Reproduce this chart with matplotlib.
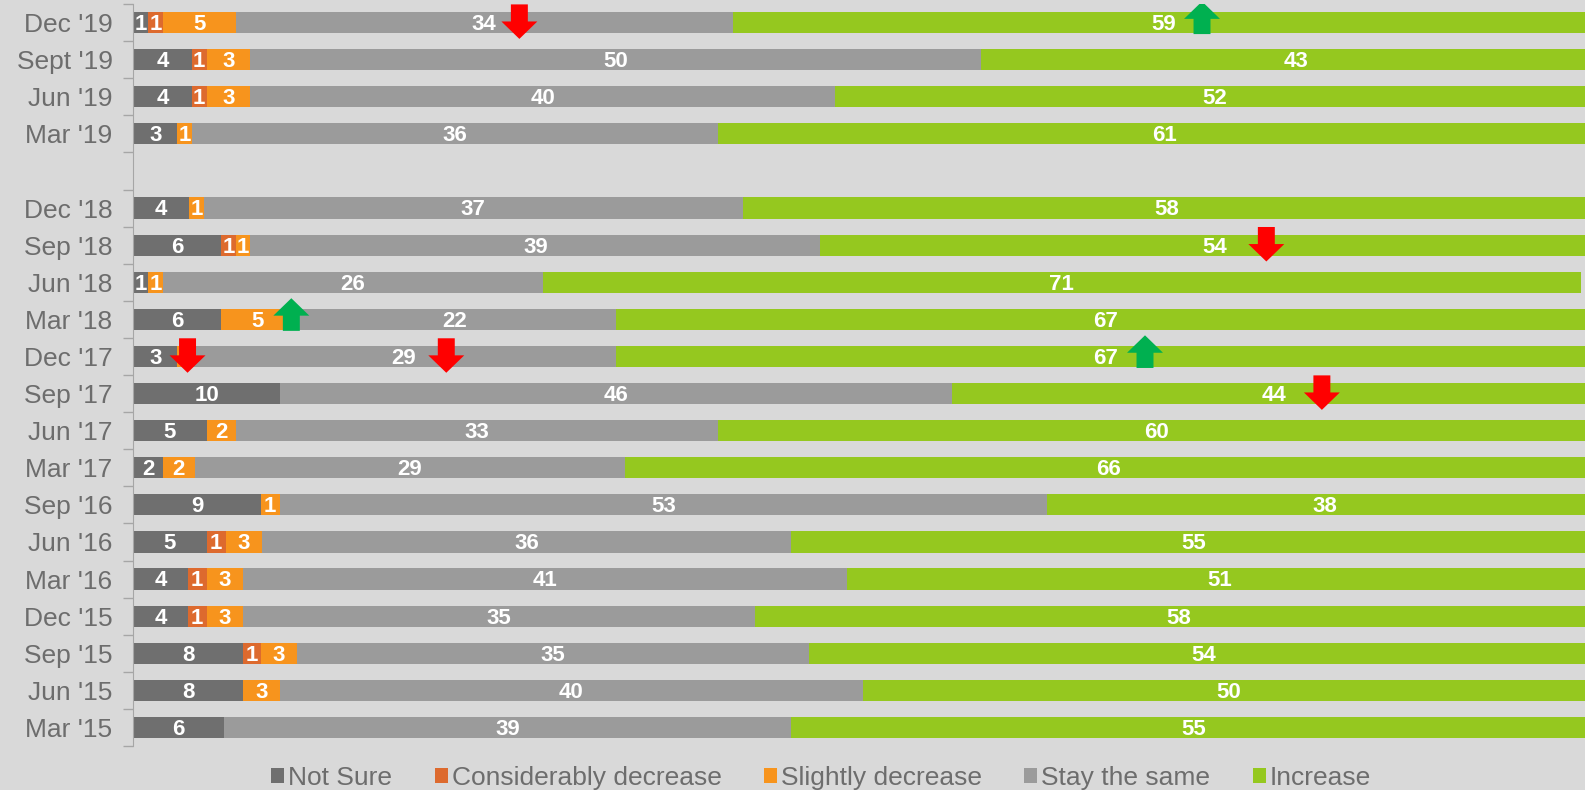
"""Stacked bars: expected change by survey wave, with trend arrows."""

import matplotlib.pyplot as plt
import numpy as np
from matplotlib.patches import FancyArrow

plt.rcParams["font.family"] = ["Liberation Sans", "DejaVu Sans"]

# top to bottom; "" is the blank spacer row between 2019 and 2018
WAVES = [
    "Dec '19", "Sept '19", "Jun '19", "Mar '19", "",
    "Dec '18", "Sep '18", "Jun '18", "Mar '18", "Dec '17",
    "Sep '17", "Jun '17", "Mar '17", "Sep '16", "Jun '16",
    "Mar '16", "Dec '15", "Sep '15", "Jun '15", "Mar '15",
]
# shares in %, labels shown rounded
NOT_SURE = [1, 4, 4, 3, 0, 3.8, 6, 1, 6, 3, 10, 5, 2, 8.7, 5, 3.7, 3.7, 7.5, 7.5, 6.2]
CONS_DECREASE = [1, 1, 1, 0, 0, 0, 1, 0, 0, 0, 0, 0, 0, 0, 1.3, 1.3, 1.3, 1.2, 0, 0]
SLIGHT_DECREASE = [5, 3, 3, 1, 0, 1, 1, 1, 5, 1, 0, 2, 2.2, 1.3, 2.5, 2.5, 2.5, 2.5, 2.5, 0]
STAY_SAME = [34, 50, 40, 36, 0, 36.9, 39, 26, 22, 29, 46, 33, 29.4, 52.5, 36.2, 41.3,
             35.0, 35.0, 39.9, 38.8]
INCREASE = [59, 43, 52, 61, 0, 58, 54, 71, 67, 67, 44, 60, 66.2, 38, 55, 51, 58, 54, 50, 55]

SERIES = [
    ("Not Sure", NOT_SURE, "#6f6f6f"),
    ("Considerably decrease", CONS_DECREASE, "#dd6a2e"),
    ("Slightly decrease", SLIGHT_DECREASE, "#f7941d"),
    ("Stay the same", STAY_SAME, "#9b9b9b"),
    ("Increase", INCREASE, "#95c81f"),
]

# (wave, x position in % units, direction)
ARROWS = [
    ("Dec '19", 26.4, "down"), ("Dec '19", 73.1, "up"),
    ("Sep '18", 77.5, "down"),
    ("Mar '18", 10.8, "up"),
    ("Dec '17", 3.7, "down"), ("Dec '17", 21.4, "down"), ("Dec '17", 69.2, "up"),
    ("Sep '17", 81.3, "down"),
]

BG = "#d9d9d9"
TEXT_GREY = "#6d6d6d"


def main() -> None:
    fig = plt.figure(figsize=(15.85, 7.9), dpi=100, facecolor=BG)
    ax = fig.add_axes([0.0842, 0.0557, 1 - 0.0842, 0.9392])
    ax.set_facecolor(BG)

    n = len(WAVES)
    y = np.arange(n)
    left = np.zeros(n)
    for name, vals, color in SERIES:
        vals = np.array(vals, dtype=float)
        ax.barh(y, vals, left=left, height=0.57, color=color, label=name,
                edgecolor="none", zorder=2)
        for yi, (l, v) in enumerate(zip(left, vals)):
            if v > 0:
                ax.text(l + v / 2, yi + 0.05, f"{int(v + 0.5)}", ha="center",
                        va="center", color="white", fontsize=16,
                        fontweight="bold", zorder=3)
        left += vals

    row = {w: i for i, w in enumerate(WAVES)}
    for wave, x, direction in ARROWS:
        yc = row[wave]
        if direction == "down":
            arr = FancyArrow(x, yc - 0.49, 0, 0.93, width=1.16, head_width=2.46,
                             head_length=0.47, length_includes_head=True,
                             color="#ff0000", ec="none", zorder=4)
        else:
            arr = FancyArrow(x, yc + 0.31, 0, -0.88, width=1.16, head_width=2.46,
                             head_length=0.47, length_includes_head=True,
                             color="#00b050", ec="none", zorder=4)
        ax.add_patch(arr)

    ax.set_xlim(0, 99.3)
    ax.set_ylim(n - 0.5, -0.5)
    ax.set_xticks([])
    ax.set_yticks(y)
    ax.set_yticklabels(WAVES, fontsize=19, color=TEXT_GREY)
    ax.set_yticks(np.arange(n + 1) - 0.5, minor=True)
    ax.tick_params(axis="y", which="major", length=0, pad=15)
    ax.tick_params(axis="y", which="minor", length=7, color="#a6a6a6", width=1)
    for side in ("top", "right", "bottom"):
        ax.spines[side].set_visible(False)
    ax.spines["left"].set_color("#a6a6a6")

    fig.legend(loc="lower center", bbox_to_anchor=(0.518, -0.03), ncol=5,
               frameon=False, fontsize=19, labelcolor=TEXT_GREY,
               handlelength=0.5, handleheight=0.5, handletextpad=0.15,
               columnspacing=1.6)

    fig.savefig("out.png", dpi=100, facecolor=BG)
    plt.close(fig)


if __name__ == "__main__":
    main()
